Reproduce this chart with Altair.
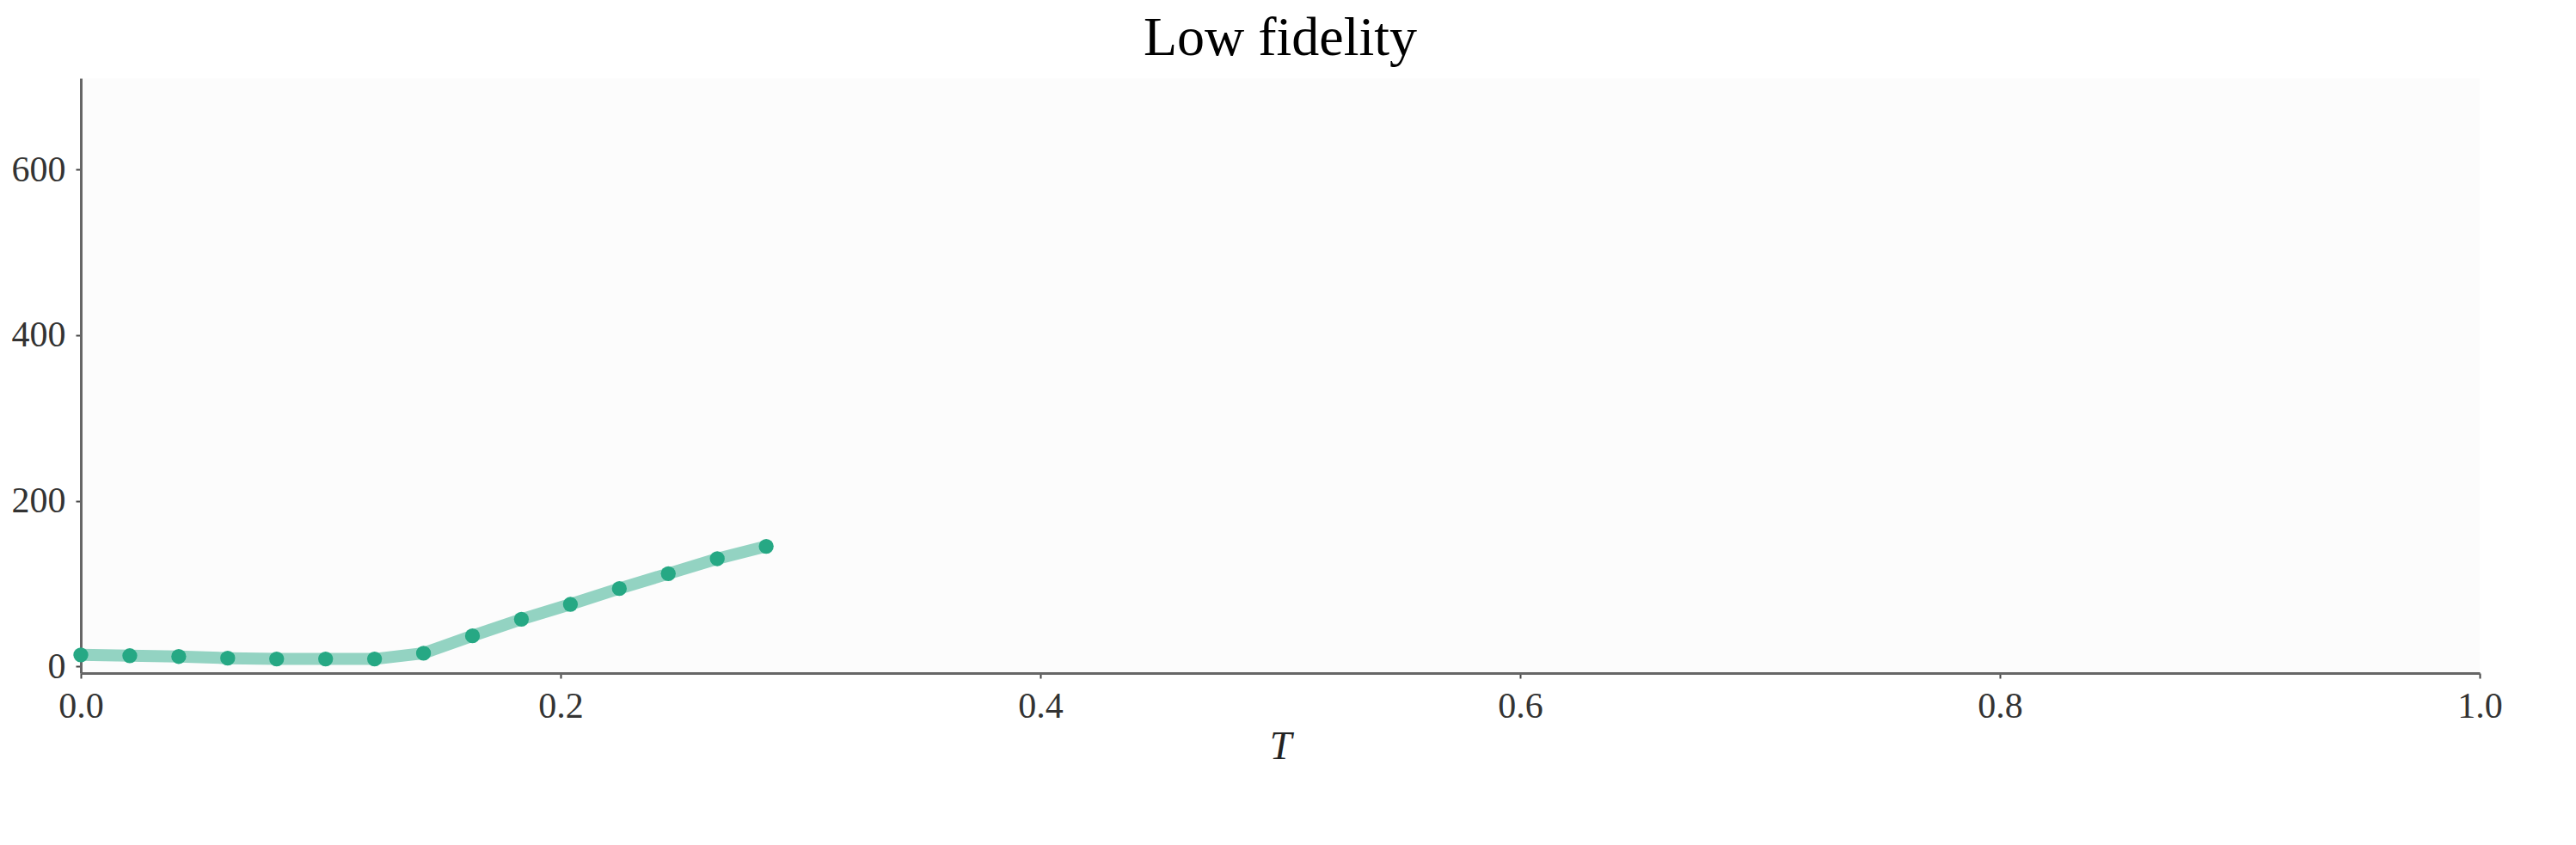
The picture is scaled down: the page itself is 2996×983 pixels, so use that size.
import altair as alt
import pandas as pd

t_values = [i / 49 for i in range(15)]
counts = [14, 13, 12, 10, 9, 9, 9, 16, 37, 57, 75, 94, 112, 130, 145]

df = pd.DataFrame({"T": t_values, "count": counts})

base = alt.Chart(df).encode(
    x=alt.X("T:Q", title="T", scale=alt.Scale(domain=[0, 1], nice=False),
            axis=alt.Axis(values=[0, 0.2, 0.4, 0.6, 0.8, 1.0], format=".1f")),
    y=alt.Y("count:Q", title=None, scale=alt.Scale(domain=[-8, 710], nice=False),
            axis=alt.Axis(values=[0, 200, 400, 600])),
)

line = base.mark_line(color="#93d3c2", strokeWidth=14)
points = base.mark_circle(color="#26a884", size=300, opacity=1)

chart = (line + points).properties(
    width=2790, height=692,
    title=alt.TitleParams("Low fidelity", font="Liberation Serif", fontSize=64,
                          fontWeight="normal", color="black", offset=14),
    background="white",
).configure_view(fill="#fcfcfc", strokeWidth=0).configure_axis(
    grid=False, domainColor="#666666", domainWidth=3, tickColor="#444444",
    tickWidth=2, tickSize=6, labelFont="Liberation Serif", labelFontSize=42,
    labelColor="#333333", titleFont="Liberation Serif", titleFontSize=46,
    titleFontStyle="italic", titleFontWeight="normal", titleColor="#222222",
    labelPadding=12,
).configure_axisX(labelFlush=False)

chart.save("out.html", embed_options={"renderer": "svg", "actions": False})
